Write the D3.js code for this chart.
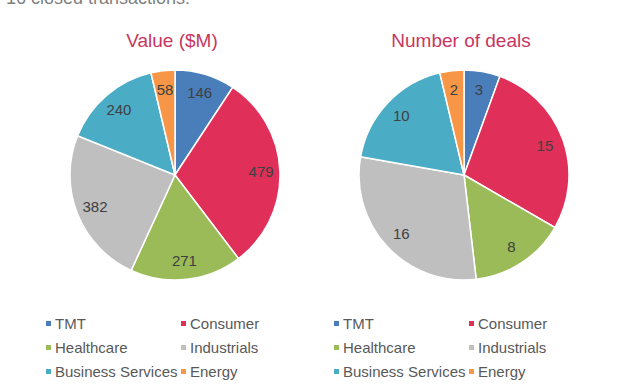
<!DOCTYPE html>
<html>
<head>
<meta charset="utf-8">
<script src="https://cdn.jsdelivr.net/npm/d3@7"></script>
<style>
  body { margin: 0; background: #fff; }
  svg { font-family: "Liberation Sans", Arial, sans-serif; }
</style>
</head>
<body>
<div id="chart"></div>
<script>
// sector breakdown - two pies

var categories = ["TMT", "Consumer", "Healthcare", "Industrials", "Business Services", "Energy"];
var valueSeries = [146, 479, 271, 382, 240, 58];
var dealSeries = [3, 15, 8, 16, 10, 2];
var titles = ["Value ($M)", "Number of deals"];
var sectorColors = ["#4a7ebb", "#e02f58", "#9bbb59", "#bfbfbf", "#4bacc6", "#f79646"];

var w_width = 619, w_height = 386;
var radius = 105;

var svg = d3.select('#chart').append('svg')
  .attr('width', w_width)
  .attr('height', w_height)

// caption line at the very top (cut by the page edge, as in the original)
svg.append('text').text('16 closed transactions:')
  .attr('x', 6).attr('y', 4)
  .attr('fill', '#7f7f7f').style('font-size', '18px')

var color = d3.scaleOrdinal().domain(categories).range(sectorColors);

var pie = d3.pie().sort(null).value(function(d) { return d.v; });
var arc = d3.arc().innerRadius(0).outerRadius(radius);
var labelArc = d3.arc().innerRadius(radius * 0.82).outerRadius(radius * 0.82);

function drawPie(series, cx, title, legendX, col2X) {
  var data = categories.map(function(c, i) { return {cat: c, v: series[i]}; });
  var g = svg.append('g').attr('transform', 'translate(' + cx + ',175)');

  g.selectAll('path.slice')
    .data(pie(data))
    .enter()
    .append('path')
    .attr('class', 'slice')
    .attr('d', arc)
    .attr('fill', function(d) { return color(d.data.cat); })
    .attr('stroke', '#fff')
    .attr('stroke-width', 1.5)

  g.selectAll('text.lbl')
    .data(pie(data))
    .enter()
    .append('text')
    .attr('class', 'lbl')
    .attr('transform', function(d) { return 'translate(' + labelArc.centroid(d) + ')'; })
    .attr('text-anchor', 'middle')
    .attr('dy', '0.35em')
    .attr('fill', '#404040')
    .style('font-size', '15px')
    .text(function(d) { return d.data.v; })

  svg.append('text').text(title)
    .attr('x', cx - 3).attr('y', 47)
    .attr('text-anchor', 'middle')
    .attr('fill', '#c8365f')
    .style('font-size', '19px')

  // legend: 2 columns x 3 rows
  var leg = svg.append('g').selectAll('g')
    .data(categories)
    .enter()
    .append('g')
    .attr('transform', function(d, i) {
      var x = (i % 2 == 0) ? legendX : col2X;
      var y = 324 + Math.floor(i / 2) * 24;
      return 'translate(' + x + ',' + y + ')';
    })

  leg.append('rect')
    .attr('x', 0).attr('y', -3)
    .attr('width', 5).attr('height', 5)
    .attr('fill', function(d) { return color(d); })

  leg.append('text')
    .attr('x', 9).attr('y', 0)
    .attr('dy', '0.35em')
    .attr('fill', '#595959')
    .style('font-size', '15px')
    .text(function(d) { return d; })
}

drawPie(valueSeries, 175, titles[0], 46, 181)
drawPie(dealSeries, 464, titles[1], 334, 469)
</script>
</body>
</html>
